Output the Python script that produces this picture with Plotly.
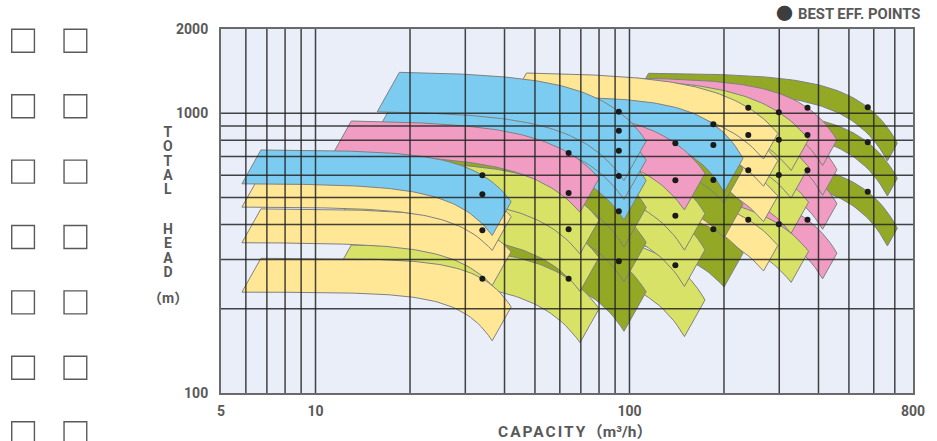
import numpy as np
import plotly.graph_objects as go

PALETTE = {
    "blue": "#7BCCF0",
    "yellow": "#FFE796",
    "pink": "#F19DC3",
    "lgreen": "#D8E266",
    "dgreen": "#93A926",
}

# Pump frames: capacity (m3/h) at the left end, at the best-efficiency point
# and at the right end of the maximum-impeller curve, plus the trim ratio
# (minimum / maximum impeller diameter) that gives the lower boundary.
frame_q_start = [6.7, 13, 18.5, 28, 37, 47, 60, 74, 115]
frame_q_bep = [34, 64, 92.5, 140, 185, 239, 299, 369, 574]
frame_q_end = [42, 80, 113, 174, 230, 297, 372, 458, 713]
frame_trim = [0.87, 0.87, 0.85, 0.86, 0.87, 0.90, 0.88, 0.90, 0.93]

# Coverage bands in drawing order (back to front): frame, colour and the head (m)
# of the maximum-impeller curve at its start, best-efficiency point and end.
band_frame = [8, 8, 8,
              7, 7, 7, 7,
              6, 6, 6, 6,
              5, 5, 5, 5,
              4, 4, 4, 4,
              3, 3, 3, 3,
              2, 2, 2, 2, 2, 2,
              1, 1, 1, 1,
              0, 0, 0, 0]
band_color = ["dgreen", "dgreen", "dgreen",
              "pink", "pink", "pink", "pink",
              "lgreen", "lgreen", "lgreen", "lgreen",
              "yellow", "yellow", "yellow", "yellow",
              "dgreen", "dgreen", "dgreen", "blue",
              "lgreen", "lgreen", "lgreen", "pink",
              "dgreen", "dgreen", "dgreen", "blue", "blue", "blue",
              "lgreen", "lgreen", "lgreen", "pink",
              "yellow", "yellow", "yellow", "blue"]
band_h_start = [692, 1040, 1389,
                553, 831, 1112, 1340,
                533, 800, 1070, 1340,
                553, 831, 1112, 1392,
                482, 723, 965, 1150,
                386, 580, 778, 1055,
                400, 600, 800, 1000, 1194, 1400,
                338, 500, 675, 938,
                303, 455, 610, 739]
band_h_bep = [524, 787, 1050,
              416, 625, 836, 1046,
              401, 601, 804, 1008,
              416, 625, 836, 1046,
              385, 577, 770, 913,
              286, 430, 576, 781,
              296, 446, 597, 735, 866, 1013,
              256, 385, 519, 721,
              256, 382, 513, 600]
band_h_end = [388, 585, 781,
              316, 475, 628, 802,
              321, 481, 643, 806,
              337, 506, 677, 847,
              316, 473, 632, 690,
              215, 325, 438, 610,
              230, 345, 460, 575, 680, 795,
              200, 305, 415, 585,
              203, 320, 427, 483]

grid_q = [6, 7, 8, 9, 10, 20, 30, 40, 50, 60, 70, 80, 90, 100,
          200, 300, 400, 500, 600, 700]
grid_h = [200, 300, 400, 500, 600, 700, 800, 900, 1000]

q_ticks = [5, 10, 100, 800]
h_ticks = [100, 1000, 2000]
Q_MIN, Q_MAX = 5, 800
H_MIN, H_MAX = 100, 2000


def curve_exponent(qs, qb, qe, hs, hb, he):
    """Exponent n so that H = hs - (hs-he)*(u^n-us^n)/(1-us^n) passes the BEP."""
    us, ub = qs / qe, qb / qe
    k = (hs - hb) / (hs - he)
    lo, hi = 0.05, 20.0
    for _ in range(80):
        mid = 0.5 * (lo + hi)
        f = (ub ** mid - us ** mid) / (1 - us ** mid)
        if f > k:
            lo = mid
        else:
            hi = mid
    return 0.5 * (lo + hi)


def head_curve(q, qs, qe, hs, he, n):
    us = qs / qe
    u = q / qe
    return hs - (hs - he) * (u ** n - us ** n) / (1 - us ** n)


fig = go.Figure()

for fr, col, hs, hb, he in zip(band_frame, band_color, band_h_start, band_h_bep, band_h_end):
    qs, qb, qe, r = frame_q_start[fr], frame_q_bep[fr], frame_q_end[fr], frame_trim[fr]
    n = curve_exponent(qs, qb, qe, hs, hb, he)
    q_up = np.geomspace(qs, qe, 70)
    h_up = head_curve(q_up, qs, qe, hs, he, n)
    # reduced impeller: affinity laws Q ~ D, H ~ D^2
    q_lo = (q_up * r)[::-1]
    h_lo = (h_up * r * r)[::-1]
    xs = np.concatenate([q_up, q_lo, q_up[:1]])
    ys = np.concatenate([h_up, h_lo, h_up[:1]])
    fig.add_trace(go.Scatter(
        x=xs, y=ys, mode="lines", fill="toself",
        fillcolor=PALETTE[col],
        line=dict(color="#808080", width=1),
        hoverinfo="skip", showlegend=False,
    ))

# grid drawn over the coverage bands
gx, gy = [], []
for q in grid_q:
    gx += [q, q, None]
    gy += [H_MIN, H_MAX, None]
for h in grid_h:
    gx += [Q_MIN, Q_MAX, None]
    gy += [h, h, None]
fig.add_trace(go.Scatter(
    x=gx, y=gy, mode="lines",
    line=dict(color="rgba(35,35,35,0.85)", width=1.5),
    hoverinfo="skip", showlegend=False,
))

# best-efficiency points
bep_q = [frame_q_bep[f] for f in band_frame]
fig.add_trace(go.Scatter(
    x=bep_q, y=band_h_bep, mode="markers",
    marker=dict(color="#1a1a1a", size=6),
    hoverinfo="skip", showlegend=False,
))

# plot-area pixel geometry, used to place the decorations around it
L, R, T, B = 221, 922, 29, 393
W, Hh = R - L, B - T


def px(x):
    return (x - L) / W


def py(y):
    return (B - y) / Hh


TXT = "#595959"
FONT = "Roboto, 'Noto Sans CJK JP', sans-serif"

shapes = []
for col_x in [9, 62]:
    for i in range(7):
        y0 = 29.3 + 65.4 * i
        shapes.append(dict(
            type="rect", xref="paper", yref="paper",
            x0=px(col_x), x1=px(col_x + 23), y0=py(y0), y1=py(y0 + 23),
            line=dict(color="#5a5a5a", width=1.4), fillcolor="white",
        ))


def stacked(word):
    return "<br>".join(f"<span style='font-size:14px'><b>{c}</b></span>" for c in word)


annotations = []
# vertical axis title, one letter per line
for text, yy in [(stacked("TOTAL"), 160), (stacked("HEAD"), 250.5),
                 ("<span style='font-size:14px'><b>（m）</b></span>", 297.5)]:
    annotations.append(dict(
        text=text, xref="paper", yref="paper",
        x=px(167), y=py(yy), xanchor="center", yanchor="middle",
        showarrow=False, font=dict(family=FONT, size=11, color=TXT),
    ))
annotations.append(dict(
    text="<b><span style='letter-spacing:2px'>CAPACITY</span>（m³/h）</b>",
    xref="paper", yref="paper",
    x=px(580), y=py(432), xanchor="center", yanchor="middle",
    showarrow=False, font=dict(family=FONT, size=15.5, color=TXT),
))
annotations.append(dict(
    text="●", xref="paper", yref="paper", x=px(792), y=py(14.5),
    xanchor="center", yanchor="middle", showarrow=False,
    font=dict(family=FONT, size=17, color="#3d3d3d"),
))
annotations.append(dict(
    text="<b>BEST EFF. POINTS</b>", xref="paper", yref="paper",
    x=px(803), y=py(14.5), xanchor="left", yanchor="middle", showarrow=False,
    font=dict(family=FONT, size=14.8, color=TXT),
))

fig.update_layout(
    width=937, height=441,
    margin=dict(l=L, r=937 - R, t=T, b=441 - B),
    paper_bgcolor="white", plot_bgcolor="#E9EEF8",
    showlegend=False,
    shapes=shapes, annotations=annotations,
    xaxis=dict(
        type="log", range=[np.log10(Q_MIN), np.log10(Q_MAX)],
        tickvals=q_ticks, ticktext=[f"<b>{v}</b>" for v in q_ticks],
        tickfont=dict(family=FONT, size=14, color=TXT),
        showgrid=False, zeroline=False, ticks="", ticklabelstandoff=4,
        showline=True, mirror=True, linecolor="#6a6a6a", linewidth=2,
    ),
    yaxis=dict(
        type="log", range=[np.log10(H_MIN), np.log10(H_MAX)],
        tickvals=h_ticks, ticktext=[f"<b>{v}</b>" for v in h_ticks],
        tickfont=dict(family=FONT, size=14, color=TXT),
        showgrid=False, zeroline=False, ticks="", ticklabelstandoff=8,
        showline=True, mirror=True, linecolor="#6a6a6a", linewidth=2,
    ),
)

fig.write_html("out.html")
